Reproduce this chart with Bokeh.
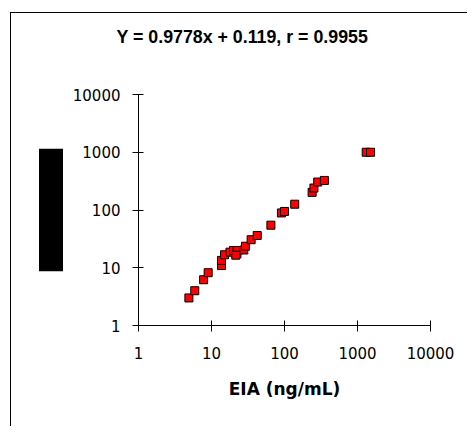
from bokeh.plotting import figure
from bokeh.models import Range1d, FixedTicker, PrintfTickFormatter, Title
from bokeh.embed import file_html
from bokeh.resources import INLINE

# ---- data ----
eia = [4.9, 5.9, 7.8, 9.0, 13.7, 13.7, 15.1, 17.9, 20.0, 22.3, 22.4, 21.5, 27.7, 29.2,
       34.9, 42.3, 65.1, 90.8, 100.0, 138.0, 239.0, 253.0, 285.0, 352.0, 1316.0, 1509.0]
ref = [3.0, 4.0, 6.2, 8.2, 10.9, 13.4, 16.8, 18.6, 19.9, 17.4, 19.9, 16.5, 20.3, 23.6,
       30.6, 36.2, 54.6, 89.0, 94.4, 126.0, 202.0, 240.0, 305.0, 325.0, 1000.0, 1000.0]
ticks = [1, 10, 100, 1000, 10000]
title_text = "Y = 0.9778x + 0.119, r = 0.9955"
x_label = "EIA (ng/mL)"

W, H = 457, 414
p = figure(width=W, height=H, output_backend="svg", toolbar_location=None,
           x_axis_type="log", y_axis_type="log",
           x_range=Range1d(1, 10000), y_range=Range1d(1, 10000),
           min_border_left=127, min_border_right=38, min_border_top=81,
           min_border_bottom=H - 312)
p.styles = {"margin-left": "10px", "margin-top": "12px",
            "border-left": "1px solid black", "border-top": "1px solid black"}
p.outline_line_color = None
p.grid.visible = False
p.background_fill_color = "white"
p.border_fill_color = "white"

for ax in (p.xaxis[0], p.yaxis[0]):
    ax.ticker = FixedTicker(ticks=ticks, minor_ticks=[])
    ax.formatter = PrintfTickFormatter(format="%d")
    ax.major_tick_in = 5
    ax.major_tick_out = 6
    ax.minor_tick_line_color = None
    ax.axis_line_color = "black"
    ax.major_tick_line_color = "black"
    ax.major_label_text_font = "DejaVu Sans"
    ax.major_label_text_font_size = "15px"
    ax.major_label_text_color = "black"

p.xaxis.major_label_standoff = 15
p.yaxis.major_label_standoff = 12
p.xaxis.axis_label = x_label
p.xaxis.axis_label_text_font = "DejaVu Sans"
p.xaxis.axis_label_text_font_style = "bold"
p.xaxis.axis_label_text_font_size = "17px"
p.xaxis.axis_label_text_color = "black"
p.xaxis.axis_label_standoff = 17

p.scatter(eia, ref, marker="square", size=8, fill_color="#ff0000",
          line_color="black", line_width=1)

# spacer between the frame and the title, then the title itself
p.add_layout(Title(text="\u00a0", text_font_size="1px", standoff=40), "above")
p.add_layout(Title(text=title_text, align="left", offset=-22, standoff=10,
                   text_font="Liberation Sans", text_font_style="bold",
                   text_font_size="17.8px", text_color="black"), "above")

# blacked-out block to the left of the y axis (as in the reference)
p.add_layout(Title(text="\u00a0" * 17 + "\u2009", align="center", text_font="DejaVu Sans",
                   text_font_size="20px", text_color="black",
                   background_fill_color="black", background_fill_alpha=1.0,
                   standoff=13), "left")

open("out.html", "w").write(file_html(p, INLINE))
